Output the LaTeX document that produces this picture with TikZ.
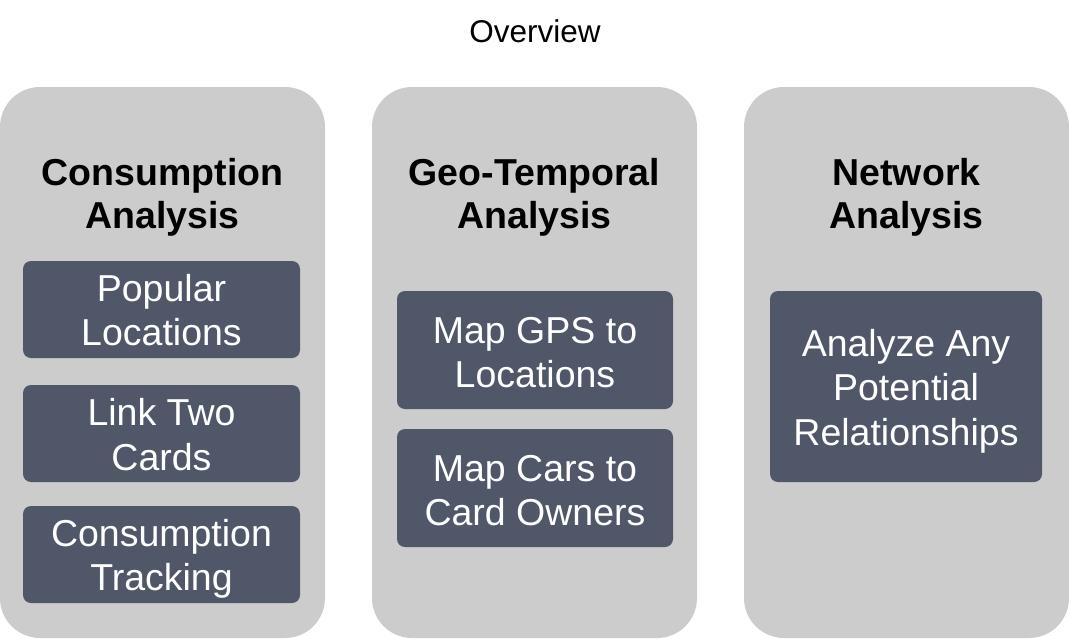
\documentclass[tikz,border=0pt]{standalone}
\usepackage{fontspec}
\setmainfont{Liberation Sans}
\definecolor{panelgray}{HTML}{CCCCCC}
\definecolor{boxblue}{HTML}{4F5769}
\begin{document}
\begin{tikzpicture}[x=1pt,y=-1pt,
  panel/.style={fill=panelgray,draw=none,rounded corners=40pt},
  item/.style={fill=boxblue,draw=none,rounded corners=8pt},
  itemtext/.style={text=white,align=center,font=\fontsize{37.5}{44.5}\selectfont,inner sep=0pt},
  headtext/.style={text=black,align=center,font=\fontsize{37.5}{43}\selectfont\bfseries,inner sep=0pt}]
\useasboundingbox (0,0) rectangle (1069,638);
\fill[white] (0,0) rectangle (1069,638);
\node[inner sep=0pt,font=\fontsize{31.5}{36}\selectfont] (title) at (535,31) {Overview};
% panels
\fill[panel] (0,87) rectangle (325,638);
\fill[panel] (372,87) rectangle (697,638);
\fill[panel] (744,87) rectangle (1069,638);
\node[headtext] (h1) at (162.5,197) {Consumption\\Analysis};
\node[headtext] (h2) at (534.5,197) {Geo-Temporal\\Analysis};
\node[headtext] (h3) at (906.5,197) {Network\\Analysis};
% items panel 1
\fill[item] (23,261) rectangle (300,358);
\node[itemtext] (a1) at (161.5,310) {Popular\\Locations};
\fill[item] (23,385) rectangle (300,482);
\node[itemtext] (a2) at (161.5,434.5) {Link Two\\Cards};
\fill[item] (23,506) rectangle (300,603);
\node[itemtext] (a3) at (161.5,559) {Consumption\\Tracking};
% items panel 2
\fill[item] (397,291) rectangle (673,409);
\node[itemtext] (b1) at (535,352.5) {Map GPS to\\Locations};
\fill[item] (397,429) rectangle (673,547);
\node[itemtext] (b2) at (535,490.5) {Map Cars to\\Card Owners};
% items panel 3
\fill[item] (770,291) rectangle (1042,482);
\node[itemtext] (c1) at (906,391) {Analyze Any\\Potential\\Relationships};
\end{tikzpicture}
\end{document}
